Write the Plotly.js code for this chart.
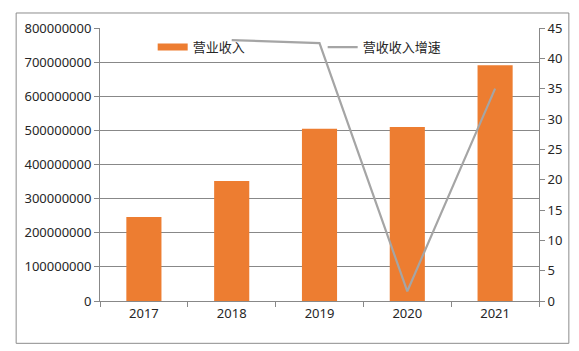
<!DOCTYPE html>
<html>
<head>
<meta charset="utf-8">
<script src="https://cdn.plot.ly/plotly-3.0.1.min.js"></script>
<style>html,body{margin:0;padding:0;background:#fff;}#chart{width:579px;height:351px;}</style>
</head>
<body>
<div id="chart"></div>
<script>
const years = ['2017', '2018', '2019', '2020', '2021'];
const revenue = [246000000, 352000000, 505000000, 510000000, 691000000];
const growth = [null, 43.0, 42.5, 1.6, 35.0];
const revenueName = '营业收入';
const growthName = '营收收入增速';

const fontFamily = '"Noto Sans", "Noto Sans CJK SC", sans-serif';
const gridColor = '#888888';

const traces = [
  {
    type: 'bar', x: years, y: revenue, name: revenueName,
    marker: {color: '#ED7D31'}, width: 0.4, showlegend: false, yaxis: 'y'
  },
  {
    type: 'scatter', mode: 'lines', x: [null], y: [null], name: revenueName,
    line: {color: '#ED7D31', width: 7}, showlegend: true, yaxis: 'y', hoverinfo: 'skip'
  },
  {
    type: 'scatter', mode: 'lines', x: years, y: growth, name: growthName,
    line: {color: '#A5A5A5', width: 2.2}, yaxis: 'y2', connectgaps: false
  }
];

const layout = {
  width: 579, height: 351,
  margin: {l: 100, r: 40, t: 28, b: 50, pad: 0},
  paper_bgcolor: '#ffffff', plot_bgcolor: '#ffffff',
  font: {family: fontFamily, size: 13, color: '#262626'},
  showlegend: true,
  legend: {
    orientation: 'h', x: 0.12, y: 0.93, xanchor: 'left', yanchor: 'middle',
    bgcolor: 'rgba(0,0,0,0)', font: {family: fontFamily, size: 13, color: '#262626'},
    entrywidth: 125, entrywidthmode: 'pixels', traceorder: 'normal'
  },
  xaxis: {
    type: 'category', range: [-0.5, 4.5], showgrid: false, zeroline: false,
    showline: true, linecolor: gridColor, linewidth: 1,
    ticks: 'outside', tickson: 'boundaries', ticklen: 5, tickcolor: gridColor,
    tickfont: {size: 13}, fixedrange: true
  },
  yaxis: {
    range: [0, 800000000], dtick: 100000000, tick0: 0, tickformat: 'd',
    showgrid: true, gridcolor: gridColor, gridwidth: 1, zeroline: false,
    showline: true, linecolor: gridColor, linewidth: 1,
    ticks: 'outside', ticklen: 5, tickcolor: gridColor, tickfont: {size: 13}
  },
  yaxis2: {
    overlaying: 'y', side: 'right', range: [0, 45], dtick: 5, tick0: 0,
    showgrid: false, zeroline: false, showline: true, linecolor: gridColor, linewidth: 1,
    ticks: 'outside', ticklen: 5, tickcolor: gridColor, tickfont: {size: 13}
  },
  shapes: [
    {type: 'rect', xref: 'paper', yref: 'paper', x0: -0.191, x1: 1.068, y0: -0.155, y1: 1.055,
     line: {color: '#8C8C8C', width: 1}, fillcolor: 'rgba(0,0,0,0)', layer: 'below'}
  ]
};

Plotly.newPlot('chart', traces, layout, {displayModeBar: false, staticPlot: true});
</script>
</body>
</html>
